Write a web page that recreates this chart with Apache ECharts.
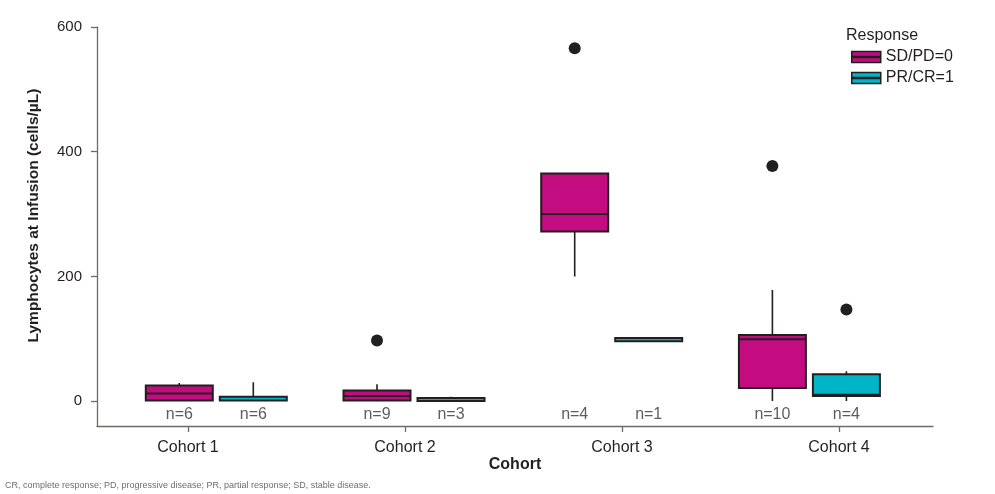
<!DOCTYPE html>
<html><head><meta charset="utf-8">
<script src="https://cdn.jsdelivr.net/npm/echarts@6/dist/echarts.min.js"></script>
<style>html,body{margin:0;padding:0;background:#fff}#c{width:995px;height:494px}</style>
</head><body><div id="c"></div>
<script>
// ---------- data ----------
const cohorts = ['Cohort 1', 'Cohort 2', 'Cohort 3', 'Cohort 4'];
const seriesNames = ['SD/PD=0', 'PR/CR=1'];
// each box: [min, Q1, median, Q3, max]
const sdBoxes = [[0, 1, 12, 25, 29], [0, 1, 8, 17, 27], [200, 272, 300, 365, 365], [0, 21, 99, 106, 178]];
const prBoxes = [[0, 1, 1, 7, 30], [0, 0, 0, 5, 7], [96, 96, 96, 101, 101], [0, 8, 10, 43, 48]];
// outliers: [cohort index, value]
const sdOutliers = [[1, 97], [2, 566], [3, 377]];
const prOutliers = [[3, 147]];
const sdCounts = [6, 9, 4, 10];
const prCounts = [6, 3, 1, 4];
const yTicks = [0, 200, 400, 600];
const yMin = -40, yMax = 600;
const nLabelLevel = -21;
const footnote = 'CR, complete response; PD, progressive disease; PR, partial response; SD, stable disease.';

// ---------- layout ----------
const gTop = 27, gBottom = 68;
const band = 197.7;
const sdCenter0 = 179.3, prCenter0 = 253.3;
const axisColor = '#746a65';
const ink = '#231f20';
const sdColor = '#c20c7f', prColor = '#00b5c8';
const font = 'Liberation Sans, Arial, sans-serif';
const fs = 16;

function gridAt(left, width) { return { left: left, width: width, top: gTop, bottom: gBottom }; }
const grids = [
  { left: 97, right: 62, top: gTop, bottom: gBottom },
  gridAt(79.5, 868),
  gridAt(sdCenter0 - band / 2, 4 * band),
  gridAt(prCenter0 - band / 2, 4 * band)
];
function hiddenCat(g, pos) { return { gridIndex: g, type: 'category', data: cohorts, show: false, position: pos || 'bottom', axisLine: { onZero: false } }; }
function hiddenVal(g) { return { gridIndex: g, type: 'value', min: yMin, max: yMax, show: false }; }

const boxBody = b => [b[1], b[1], b[2], b[3], b[3]];

const chart = echarts.init(document.getElementById('c'), null, { renderer: 'canvas' });
const nLabel = (counts) => ({
  show: true, position: 'inside', fontSize: fs, color: '#333335', fontFamily: font,
  formatter: p => 'n=' + counts[p.dataIndex]
});
const option = {
  animation: false,
  backgroundColor: '#fff',
  textStyle: { fontFamily: font },
  title: [
    { text: 'Response', left: 841, top: 23, textStyle: { fontSize: fs, fontWeight: 'normal', color: ink, fontFamily: font } },
    { text: footnote, left: 0, top: 476, textStyle: { fontSize: 9, fontWeight: 'normal', color: '#6d6e71', fontFamily: font } }
  ],
  legend: {
    orient: 'vertical', left: 846, top: 44, itemWidth: 29, itemHeight: 11, itemGap: 5,
    icon: 'path://M0,0H29V11H0Z M0,5H29V6H0Z',
    textStyle: { fontSize: fs, color: ink, fontFamily: font },
    data: [
      { name: seriesNames[0], itemStyle: { color: sdColor, borderColor: ink, borderWidth: 1.5 } },
      { name: seriesNames[1], itemStyle: { color: prColor, borderColor: ink, borderWidth: 1.5 } }
    ]
  },
  grid: grids,
  xAxis: [
    { gridIndex: 0, type: 'value', min: 0, max: 1,
      axisLine: { show: true, onZero: false, lineStyle: { color: axisColor, width: 1.3 } },
      axisTick: { show: false }, axisLabel: { show: false }, splitLine: { show: false },
      name: 'Cohort', nameLocation: 'middle', nameGap: 31,
      nameTextStyle: { fontWeight: 'bold', fontSize: fs, color: ink, fontFamily: font } },
    { gridIndex: 1, type: 'category', data: cohorts, axisLine: { show: false, onZero: false },
      axisTick: { show: true, alignWithLabel: true, length: 6, lineStyle: { color: axisColor, width: 1.3 } },
      axisLabel: { fontSize: fs, color: ink, margin: 14, fontFamily: font } },
    hiddenCat(2), hiddenCat(2, 'top'), hiddenCat(3), hiddenCat(3, 'top')
  ],
  yAxis: [
    { gridIndex: 0, type: 'value', min: yMin, max: yMax,
      axisLine: { show: true, onZero: false, lineStyle: { color: axisColor, width: 1.3 } },
      axisTick: { show: true, length: 6, customValues: yTicks, lineStyle: { color: axisColor, width: 1.3 } },
      axisLabel: { customValues: yTicks, fontSize: 15, color: ink, margin: 15, fontFamily: font },
      splitLine: { show: false },
      name: 'Lymphocytes at Infusion (cells/µL)', nameLocation: 'middle', nameGap: 55,
      nameTextStyle: { fontWeight: 'bold', fontSize: 15.5, color: ink, fontFamily: font, padding: [0, 0, 0, 22] } },
    hiddenVal(1), hiddenVal(2), hiddenVal(3)
  ],
  series: [
    { name: 'sd-whisker', type: 'boxplot', xAxisIndex: 3, yAxisIndex: 2, data: sdBoxes, boxWidth: [0, 0], z: 1, silent: true,
      itemStyle: { color: 'none', borderColor: ink, borderWidth: 1.6 } },
    { name: seriesNames[0], type: 'boxplot', xAxisIndex: 2, yAxisIndex: 2, data: sdBoxes.map(boxBody), boxWidth: [67, 67], z: 3,
      itemStyle: { color: sdColor, borderColor: ink, borderWidth: 2 } },
    { name: 'pr-whisker', type: 'boxplot', xAxisIndex: 5, yAxisIndex: 3, data: prBoxes, boxWidth: [0, 0], z: 1, silent: true,
      itemStyle: { color: 'none', borderColor: ink, borderWidth: 1.6 } },
    { name: seriesNames[1], type: 'boxplot', xAxisIndex: 4, yAxisIndex: 3, data: prBoxes.map(boxBody), boxWidth: [67, 67], z: 3,
      itemStyle: { color: prColor, borderColor: ink, borderWidth: 2 } },
    { name: 'sd-outliers', type: 'scatter', xAxisIndex: 2, yAxisIndex: 2, data: sdOutliers, symbolSize: 12, z: 4,
      itemStyle: { color: ink, opacity: 1 } },
    { name: 'pr-outliers', type: 'scatter', xAxisIndex: 4, yAxisIndex: 3, data: prOutliers, symbolSize: 12, z: 4,
      itemStyle: { color: ink, opacity: 1 } },
    { name: 'sd-n', type: 'scatter', xAxisIndex: 2, yAxisIndex: 2, symbolSize: 1, z: 4, silent: true,
      data: sdCounts.map((n, i) => [i, nLabelLevel]), itemStyle: { color: 'rgba(0,0,0,0)' }, label: nLabel(sdCounts) },
    { name: 'pr-n', type: 'scatter', xAxisIndex: 4, yAxisIndex: 3, symbolSize: 1, z: 4, silent: true,
      data: prCounts.map((n, i) => [i, nLabelLevel]), itemStyle: { color: 'rgba(0,0,0,0)' }, label: nLabel(prCounts) }
  ]
};
chart.setOption(option);
</script></body></html>
